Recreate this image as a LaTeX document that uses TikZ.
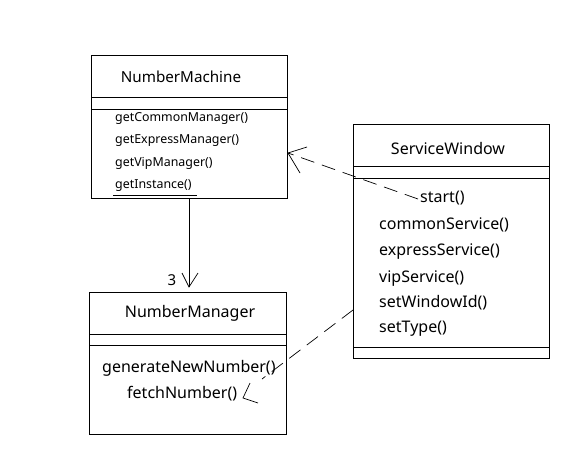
\documentclass[tikz,border=0pt]{standalone}
\usepackage{fontspec}
\setmainfont{Noto Sans}
\usetikzlibrary{arrows.meta}
\begin{document}
\begin{tikzpicture}[x=1pt,y=-1pt,
  box/.style={draw,line width=0.9pt,anchor=north west,inner sep=0pt},
  sep/.style={line width=0.9pt},
  title/.style={font=\fontsize{15.5}{17}\selectfont,inner sep=0pt},
  small/.style={font=\fontsize{12.4}{14}\selectfont,anchor=west,inner sep=0pt},
  meth/.style={font=\fontsize{16}{18}\selectfont,anchor=west,inner sep=0pt},
  conn/.style={line width=0.7pt},
  barb/.style={line width=0.7pt},
  dashconn/.style={line width=0.7pt,dash pattern=on 14pt off 8pt}]
\useasboundingbox (0,0) rectangle (586,450);
% NumberMachine
\node[box,minimum width=196pt,minimum height=143pt] (nm) at (91,55) {};
\draw[sep] (91,97) -- (287,97);
\draw[sep] (91,109) -- (287,109);
\node[title,font=\fontsize{15.2}{17}\selectfont] (nmt) at (181,77) {NumberMachine};
\node[small] (nm1) at (115,118.5) {getCommonManager()};
\node[small] (nm2) at (115,140.5) {getExpressManager()};
\node[small] (nm3) at (115,163.5) {getVipManager()};
\node[small] (nm4) at (115,186) {getInstance()};
\draw[line width=0.7pt] (113,195) -- (197,195);
% ServiceWindow
\node[box,minimum width=196pt,minimum height=234pt] (sw) at (353,124) {};
\draw[sep] (353,166) -- (549,166);
\draw[sep] (353,178) -- (549,178);
\draw[sep] (353,347) -- (549,347);
\node[title,font=\fontsize{16}{18}\selectfont] (swt) at (448,148) {ServiceWindow};
\node[meth] (sw0) at (420,198) {start()};
\node[meth] (sw1) at (379,225) {commonService()};
\node[meth] (sw2) at (379,252) {expressService()};
\node[meth] (sw3) at (379,279) {vipService()};
\node[meth] (sw4) at (379,303) {setWindowId()};
\node[meth] (sw5) at (379,329) {setType()};
% NumberManager
\node[box,minimum width=197pt,minimum height=142pt] (mg) at (89,292) {};
\draw[sep] (89,334) -- (286,334);
\draw[sep] (89,345) -- (286,345);
\node[title,font=\fontsize{16}{18}\selectfont] (mgt) at (190,313) {NumberManager};
\node[meth] (mg1) at (102,368) {generateNewNumber()};
\node[meth] (mg2) at (127,394) {fetchNumber()};
% solid connector NumberMachine -> NumberManager
\coordinate (a1) at (189,198);
\coordinate (a2) at (189,287);
\draw[conn] (a1) -- (a2);
\draw[barb] (182,273) -- (a2) -- (198,273);
\node[font=\fontsize{15}{17}\selectfont,inner sep=0pt] (three) at (172,280) {3};
% dashed connector start() -> NumberMachine
\coordinate (b1) at (418,199);
\coordinate (b2) at (288,153);
\draw[dashconn] (b1) -- (b2);
\draw[barb] (307,147) -- (b2) -- (300,173);
% dashed connector ServiceWindow -> fetchNumber()
\coordinate (c1) at (353,310);
\coordinate (c3) at (262,379);
\coordinate (c2) at (243,398);
\draw[dashconn] (c1) -- (c3);
\draw[barb] (250,383) -- (c2) -- (258,403);
\end{tikzpicture}
\end{document}
